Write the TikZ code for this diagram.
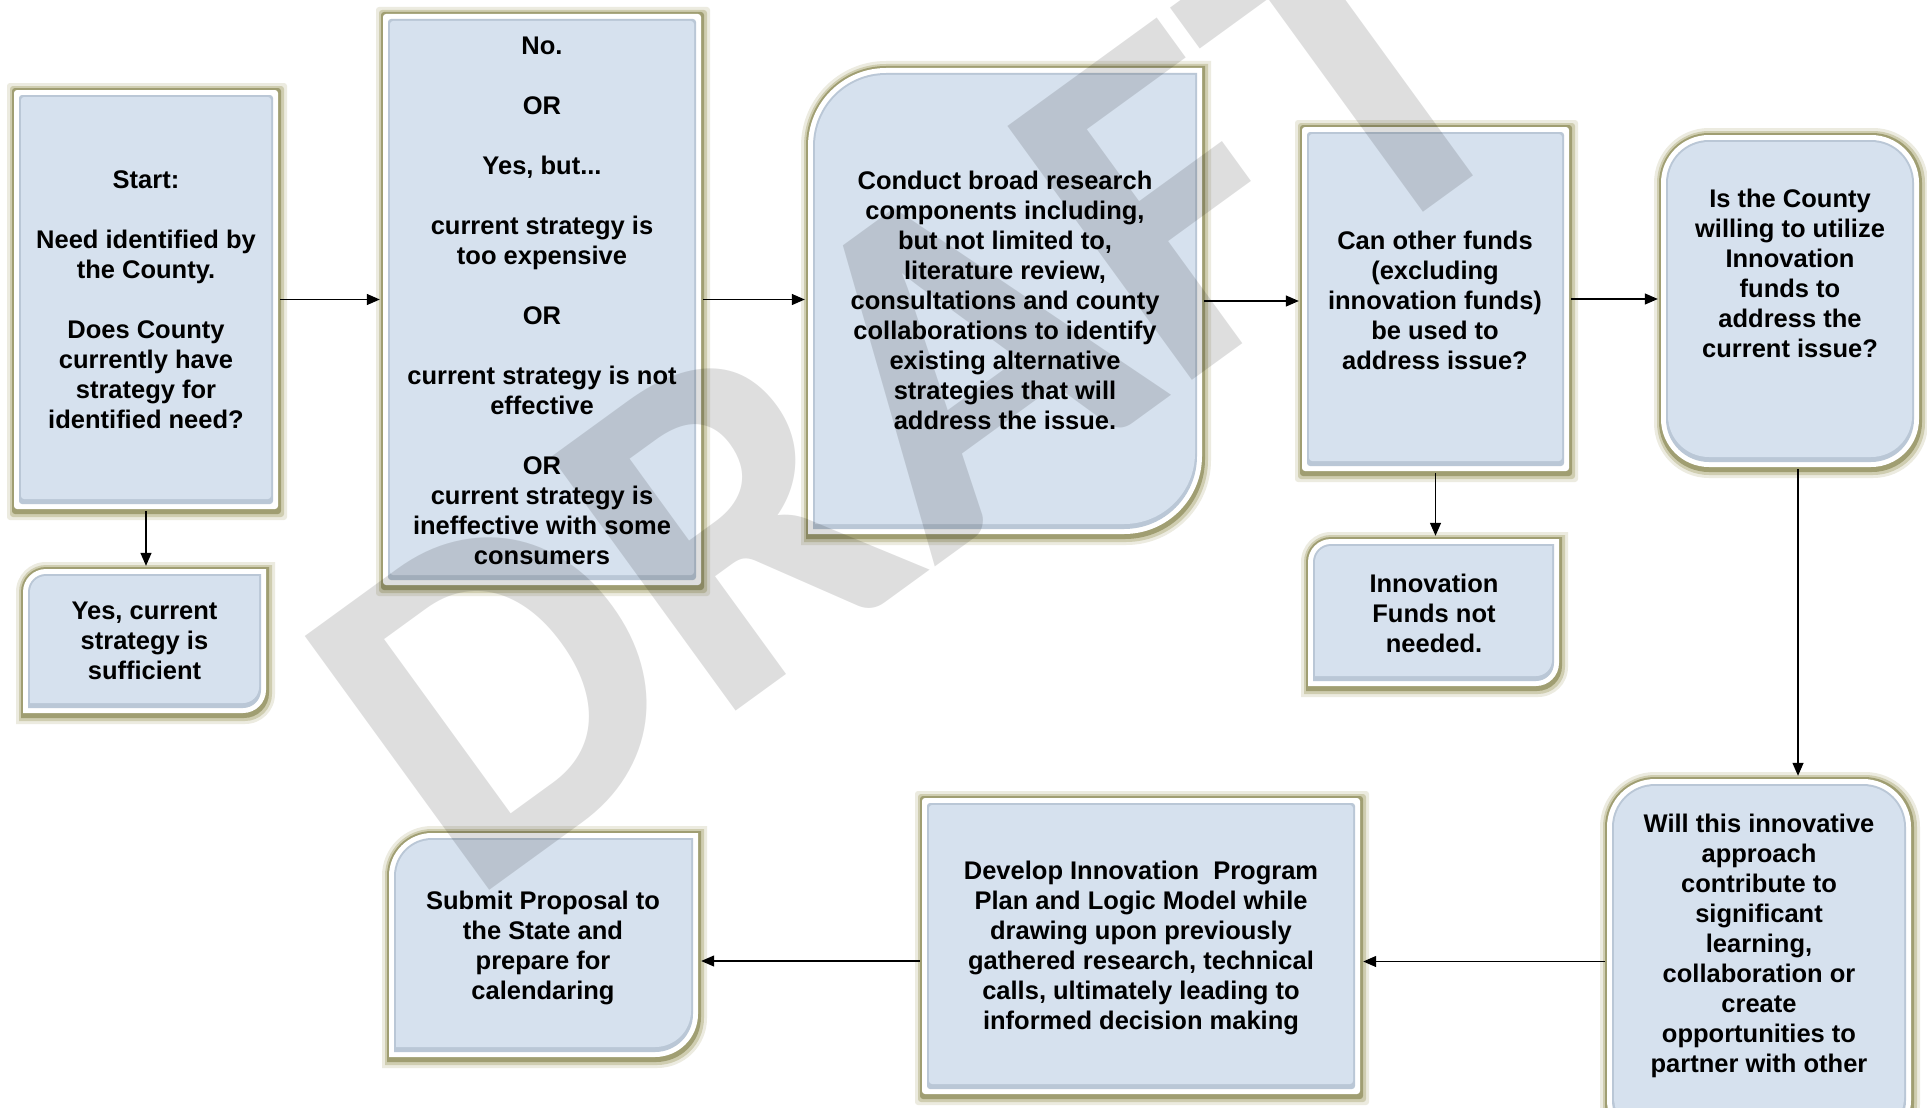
\documentclass[tikz,border=0pt]{standalone}
\usepackage{fontspec}
\setmainfont{Liberation Sans}
\newfontfamily\wmfont{Carlito}
\usetikzlibrary{arrows.meta}
\definecolor{halo}{HTML}{ECEBE0}
\definecolor{halotwo}{HTML}{CFCDB0}
\definecolor{boxolive}{HTML}{A09E72}
\definecolor{edgeblue}{HTML}{BAC7D6}
\definecolor{fillblue}{HTML}{D6E1EE}
\newcommand\shapefill[7]{%
  \pgfmathsetmacro\sL{#3}\pgfmathsetmacro\sT{#4}%
  \pgfmathsetmacro\sR{#5}\pgfmathsetmacro\sB{#6}\pgfmathsetmacro\sr{max(#7,2)}%
  \ifcase#2\relax
    \fill[#1,rounded corners=3pt] (\sL,\sT) rectangle (\sR,\sB);%
  \or
    \fill[#1] (\sL,\sB) -- (\sL,\sT+\sr) arc[start angle=180,end angle=270,radius=\sr] -- (\sR,\sT) -- (\sR,\sB-\sr) arc[start angle=0,end angle=90,radius=\sr] -- cycle;%
  \or
    \fill[#1,rounded corners=\sr pt] (\sL,\sT) rectangle (\sR,\sB);%
  \fi}
\newcommand\flowbox[7]{%
  \shapefill{halo}{#2}{#3-5}{#4-5}{#5+7}{#6+9}{#7+5}%
  \shapefill{halotwo}{#2}{#3-2}{#4-2}{#5+4}{#6+6}{#7+2}%
  \shapefill{boxolive}{#2}{#3}{#4}{#5+1}{#6+3}{#7}%
  \shapefill{white}{#2}{#3+2}{#4+2}{#5-2}{#6-2}{#7-2}%
  \shapefill{edgeblue}{#2}{#3+7}{#4+7}{#5-7}{#6-7}{#7-7}%
  \shapefill{fillblue}{#2}{#3+9}{#4+9}{#5-9}{#6-12}{#7-9}%
  \pgfmathsetmacro\bw{#5-#3}\pgfmathsetmacro\bh{#6-#4}%
  \pgfmathsetmacro\bx{(#3+#5)/2}\pgfmathsetmacro\by{(#4+#6)/2}%
  \node[inner sep=0pt, minimum width=\bw pt, minimum height=\bh pt] (#1) at (\bx,\by) {};}
\begin{document}
\begin{tikzpicture}[x=1pt,y=-1pt,
  txt/.style={inner sep=0pt, align=center, font=\bfseries\fontsize{25.5}{30}\selectfont},
  arr/.style={line width=1.3pt, -{Triangle[length=13pt,width=11pt]}, shorten >=1pt},
  wm/.style={anchor=base west, rotate=36, inner sep=0pt, text=black, text opacity=0.13,
    font=\wmfont\bfseries\fontsize{484}{484}\selectfont}]
\useasboundingbox (0,0) rectangle (1927,1108);
\clip (0,0) rectangle (1927,1108);
\fill[white] (0,0) rectangle (1927,1108);
% boxes: name, type (0 square, 1 diagonal round, 2 round), L, T, R, B, radius
\flowbox{start}{0}{12}{88}{280}{511}{3}
\flowbox{yes}{1}{21}{567}{268}{715}{25}
\flowbox{no}{0}{381}{12}{703}{587}{3}
\flowbox{conduct}{1}{806}{66}{1204}{536}{80}
\flowbox{can}{0}{1300}{125}{1571}{473}{3}
\flowbox{innov}{1}{1306}{537}{1561}{688}{25}
\flowbox{iscounty}{2}{1659}{133}{1921}{469}{50}
\flowbox{will}{2}{1605}{777}{1913}{1150}{50}
\flowbox{develop}{0}{920}{796}{1362}{1096}{3}
\flowbox{submit}{1}{387}{831}{700}{1059}{45}
% watermark
\node[wm] (draft) at (467,907) {DRAFT};
% texts
\node[txt] (startT) at (146,300) {Start:\\[30pt]Need identified by\\the County.\\[30pt]Does County\\currently have\\strategy for\\identified need?};
\node[txt] (yesT) at (144.5,641) {Yes, current\\strategy is\\sufficient};
\node[txt] (noT) at (542,301) {No.\\[30pt]OR\\[30pt]Yes, but...\\[30pt]current strategy is\\too expensive\\[30pt]OR\\[30pt]current strategy is not\\effective\\[30pt]OR\\current strategy is\\ineffective with some\\consumers};
\node[txt] (conductT) at (1005,300) {Conduct broad research\\components including,\\but not limited to,\\literature review,\\consultations and county\\collaborations to identify\\existing alternative\\strategies that will\\address the issue.};
\node[txt] (canT) at (1435,300) {Can other funds\\(excluding\\innovation funds)\\be used to\\address issue?};
\node[txt] (innovT) at (1434,613) {Innovation\\Funds not\\needed.};
\node[txt] (iscountyT) at (1790,273) {Is the County\\willing to utilize\\Innovation\\funds to\\address the\\current issue?};
\node[txt] (willT) at (1759,946) {Will this innovative\\approach\\contribute to\\significant\\learning,\\collaboration or\\create\\opportunities to\\partner with other};
\node[txt] (developT) at (1141,948) {Develop Innovation\ \ Program\\Plan and Logic Model while\\drawing upon previously\\gathered research, technical\\calls, ultimately leading to\\informed decision making};
\node[txt] (submitT) at (543,948) {Submit Proposal to\\the State and\\prepare for\\calendaring};
% connectors
\draw[arr] (start.east) -- (start.east -| no.west);
\draw[arr] (start.south) -- (start.south |- yes.north);
\draw[arr] (no.east) -- (no.east -| conduct.west);
\draw[arr] (conduct.east) -- (conduct.east -| can.west);
\draw[arr] (can.south) -- (can.south |- innov.north);
\draw[arr] (can.east) -- (can.east -| iscounty.west);
\draw[arr] ([xshift=8pt]iscounty.south) -- ([xshift=8pt]iscounty.south |- will.north);
\draw[arr] ([yshift=2pt]will.west) -- ([yshift=2pt]will.west -| develop.east);
\draw[arr] ([yshift=-15pt]develop.west) -- ([yshift=-15pt]develop.west -| submit.east);
\end{tikzpicture}
\end{document}
